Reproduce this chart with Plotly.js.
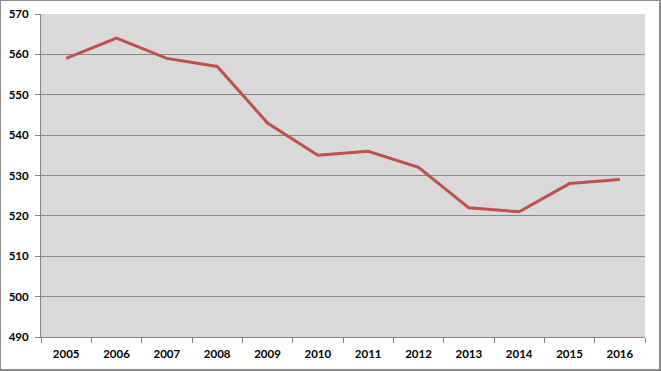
<!DOCTYPE html>
<html>
<head>
<meta charset="utf-8">
<script src="https://cdn.plot.ly/plotly-3.0.1.min.js"></script>
<style>
html,body{margin:0;padding:0;background:#fff;}
#wrap{position:relative;width:661px;height:371px;}
#chart{width:661px;height:371px;}
#frame{position:absolute;left:0;top:0;width:661px;height:371px;box-sizing:border-box;border:1px solid #8c8c8c;border-right:2px solid #8c8c8c;border-bottom:2px solid #8c8c8c;pointer-events:none;}
</style>
</head>
<body>
<div id="wrap"><div id="chart"></div><div id="frame"></div></div>
<script>
const years = ['2005','2006','2007','2008','2009','2010','2011','2012','2013','2014','2015','2016'];
const values = [559, 564, 559, 557, 543, 535, 536, 532, 522, 521, 528, 529];
const yTicks = [490, 500, 510, 520, 530, 540, 550, 560, 570];

const font = {family: 'Lato, "Open Sans", sans-serif', size: 11, color: '#000'};

Plotly.newPlot('chart', [{
  x: years, y: values, type: 'scatter', mode: 'lines',
  line: {color: '#c0504d', width: 3}
}], {
  width: 661, height: 371,
  margin: {l: 41, r: 16, t: 14, b: 34},
  paper_bgcolor: '#ffffff',
  plot_bgcolor: '#d9d9d9',
  showlegend: false,
  font: font,
  xaxis: {
    type: 'category', categoryorder: 'array', categoryarray: years,
    range: [-0.5, years.length - 0.5],
    showgrid: false, showline: true, linecolor: '#868686', linewidth: 1,
    ticks: 'outside', tickson: 'boundaries', ticklen: 5, tickcolor: '#868686',
    ticklabelstandoff: 6,
    tickfont: {family: font.family, size: 11.5, color: '#000', weight: 'bold'},
    zeroline: false, fixedrange: true
  },
  yaxis: {
    range: [490, 570], tickvals: yTicks, ticktext: yTicks.map(String),
    showgrid: true, gridcolor: '#868686', gridwidth: 1,
    showline: true, linecolor: '#868686', linewidth: 1,
    ticks: 'outside', ticklen: 5, tickcolor: '#868686',
    ticklabelstandoff: 4,
    tickfont: {family: font.family, size: 11.5, color: '#000', weight: 'bold'},
    zeroline: false, fixedrange: true
  }
}, {displayModeBar: false, staticPlot: true});
</script>
</body>
</html>
